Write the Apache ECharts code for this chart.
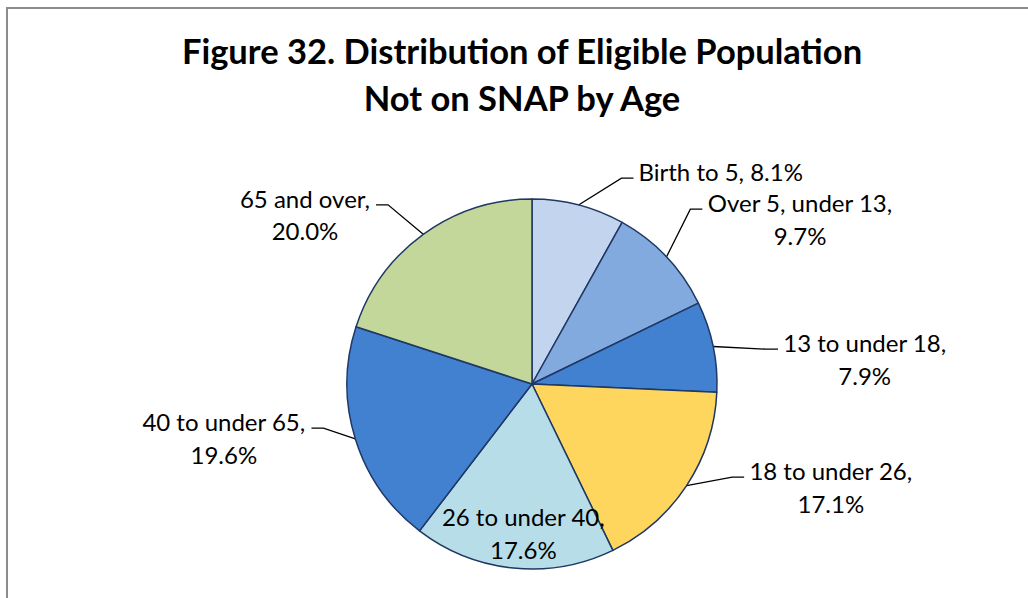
<!DOCTYPE html>
<html>
<head>
<meta charset="utf-8">
<script src="https://cdn.jsdelivr.net/npm/echarts@6/dist/echarts.min.js"></script>
<style>
html,body{margin:0;padding:0;background:#fff;}
#chart{width:1028px;height:598px;}
</style>
</head>
<body>
<div id="chart"></div>
<script>
// ---- data ----
const categories = ['Birth to 5', 'Over 5, under 13', '13 to under 18', '18 to under 26', '26 to under 40', '40 to under 65', '65 and over'];
const shares = [8.1, 9.7, 7.9, 17.1, 17.6, 19.6, 20.0];
const titleLines = ['Figure 32. Distribution of Eligible Population', 'Not on SNAP by Age'];

// ---- styles / layout (not data) ----
const sliceColors = ['#C3D5EE', '#83AADF', '#4280D0', '#FED65E', '#B7DDE8', '#4280D0', '#C4D79B'];
const oneLineLabel = [true, false, false, false, false, false, false];
// label block: [centre x, first-line centre y, side]
const labelPlace = [
  [720.7, 171.7, 'right'],
  [800.0, 202.7, 'right'],
  [864.7, 342.7, 'right'],
  [830.8, 470.7, 'right'],
  [523.3, 516.7, 'inside'],
  [223.8, 421.7, 'left'],
  [305.0, 198.3, 'left']
];
const LH = 32.5;

const chart = echarts.init(document.getElementById('chart'), null, {renderer: 'svg'});

const data = categories.map((c, i) => ({
  name: c,
  value: shares[i],
  itemStyle: {color: sliceColors[i]},
  label: labelPlace[i][2] === 'inside' ? {position: 'inside'} : {position: 'outside'},
  labelLine: {show: labelPlace[i][2] !== 'inside'}
}));

chart.setOption({
  animation: false,
  backgroundColor: '#ffffff',
  graphic: [
    {
      type: 'polyline',
      shape: {points: [[7, 620], [7, 8], [1060, 8]]},
      style: {stroke: '#8c8c8c', lineWidth: 2, fill: null},
      silent: true
    },
    {
      type: 'text',
      x: 522, y: 74,
      style: {
        text: titleLines.join('\n'),
        fontFamily: 'Lato', fontWeight: 'bold', fontSize: 34.5,
        lineHeight: 47, align: 'center', verticalAlign: 'middle', fill: '#000'
      },
      silent: true
    }
  ],
  series: [{
    type: 'pie',
    center: [532, 384],
    radius: 185,
    startAngle: 90,
    clockwise: true,
    avoidLabelOverlap: false,
    emphasis: {disabled: true},
    itemStyle: {borderColor: '#1F3864', borderWidth: 1.5},
    label: {
      show: true,
      color: '#000',
      fontFamily: 'Lato',
      fontSize: 24,
      lineHeight: LH,
      formatter: function (p) {
        return p.name + ',' + (oneLineLabel[p.dataIndex] ? ' ' : '\n') + p.value.toFixed(1) + '%';
      }
    },
    labelLine: {show: true, lineStyle: {color: '#000', width: 1.3}},
    labelLayout: function (p) {
      const L = labelPlace[p.dataIndex];
      const res = {x: L[0], y: L[1] - LH / 2, align: 'center', verticalAlign: 'top'};
      if (L[2] !== 'inside' && p.labelLinePoints) {
        const w = p.labelRect.width;
        const start = p.labelLinePoints[0];
        const yLine = L[1] + 6.5;
        let end, elbow;
        if (L[2] === 'right') {
          end = [L[0] - w / 2 - 5, yLine];
          elbow = [end[0] - 12, yLine];
        } else {
          end = [L[0] + w / 2 + 6, yLine];
          elbow = [end[0] + 12, yLine];
        }
        res.labelLinePoints = [start, elbow, end];
      }
      return res;
    },
    data: data
  }]
});
</script>
</body>
</html>
